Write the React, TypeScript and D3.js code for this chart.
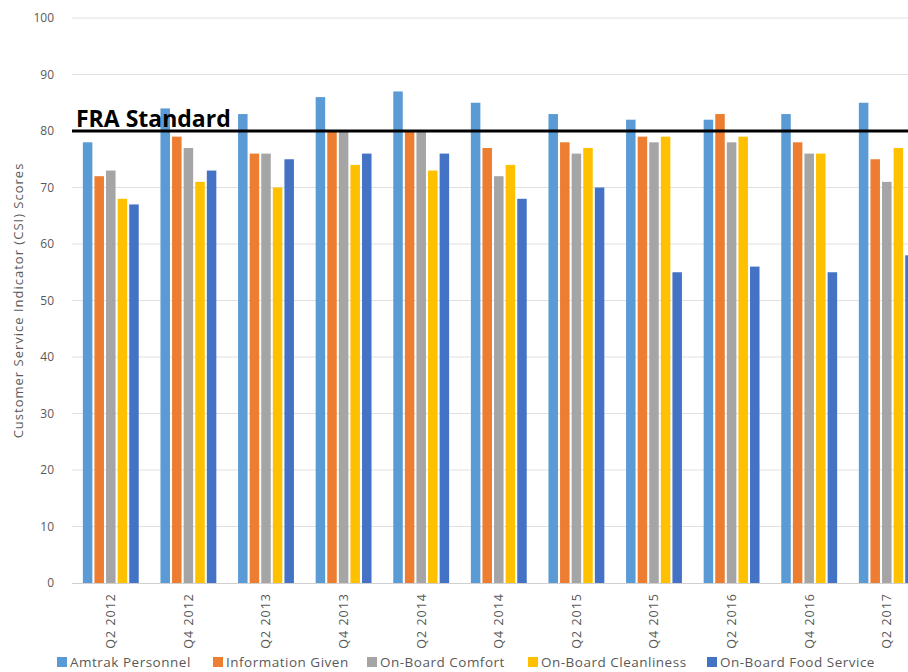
import { useRef, useEffect } from 'react'
import * as d3 from 'd3'

const quarters: string[] = ['Q2 2012', 'Q4 2012', 'Q2 2013', 'Q4 2013', 'Q2 2014', 'Q4 2014', 'Q2 2015', 'Q4 2015', 'Q2 2016', 'Q4 2016', 'Q2 2017']
const seriesNames: string[] = ['Amtrak Personnel', 'Information Given', 'On-Board Comfort', 'On-Board Cleanliness', 'On-Board Food Service']
const amtrakPersonnel: number[] = [78, 84, 83, 86, 87, 85, 83, 82, 82, 83, 85]
const informationGiven: number[] = [72, 79, 76, 80, 80, 77, 78, 79, 83, 78, 75]
const onBoardComfort: number[] = [73, 77, 76, 80, 80, 72, 76, 78, 78, 76, 71]
const onBoardCleanliness: number[] = [68, 71, 70, 74, 73, 74, 77, 79, 79, 76, 77]
const onBoardFoodService: number[] = [67, 73, 75, 76, 76, 68, 70, 55, 56, 55, 58]
const yTicks: number[] = [0, 10, 20, 30, 40, 50, 60, 70, 80, 90, 100]
const fraStandard: number = 80

const colors = ['#5B9BD5', '#ED7D31', '#A5A5A5', '#FFC000', '#4472C4']
const FONT = '"Open Sans", Lato, sans-serif'

export default function App() {
  const svgRef = useRef<SVGSVGElement>(null)
  const width = 908
  const height = 672

  useEffect(() => {
    const svg = d3.select(svgRef.current)
    svg.selectAll('*').remove()

    const series = [amtrakPersonnel, informationGiven, onBoardComfort, onBoardCleanliness, onBoardFoodService]
    const left = 72
    const top = 18
    const bottom = 583

    // plot keeps going past the right edge, so the last group is cut off
    const x0 = d3.scaleBand().domain(quarters).range([left, left + 11 * 77.6])
    const x1 = d3.scaleBand()
      .domain(seriesNames)
      .range([x0.bandwidth() * 0.14, x0.bandwidth() * 0.86])
      .paddingInner(0.18)
    const y = d3.scaleLinear().domain([0, 100]).range([bottom, top])

    // gridlines
    svg.append('g')
      .selectAll('line')
      .data(yTicks.filter(d => d > 0))
      .enter()
      .append('line')
      .attr('x1', left)
      .attr('x2', width)
      .attr('y1', d => y(d))
      .attr('y2', d => y(d))
      .attr('stroke', '#e0e0e0')
      .attr('stroke-width', 1)

    // y tick labels
    svg.append('g')
      .selectAll('text')
      .data(yTicks)
      .enter()
      .append('text')
      .attr('x', 54)
      .attr('y', d => y(d))
      .attr('dy', '0.35em')
      .attr('text-anchor', 'end')
      .attr('font-family', FONT)
      .attr('font-size', 12)
      .attr('fill', '#595959')
      .text(d => d)

    // bars
    const groups = svg.append('g')
      .selectAll('g')
      .data(quarters)
      .enter()
      .append('g')
      .attr('transform', d => 'translate(' + x0(d) + ',0)')

    groups.selectAll('rect')
      .data((_, i) => series.map((s, k) => ({ name: seriesNames[k], value: s[i], k })))
      .enter()
      .append('rect')
      .attr('x', d => x1(d.name) as number)
      .attr('width', x1.bandwidth())
      .attr('y', d => y(d.value))
      .attr('height', d => bottom - y(d.value))
      .attr('fill', d => colors[d.k])

    // baseline
    svg.append('line')
      .attr('x1', left)
      .attr('x2', width)
      .attr('y1', bottom + 0.5)
      .attr('y2', bottom + 0.5)
      .attr('stroke', '#d0d0d0')
      .attr('stroke-width', 1)

    // x labels
    svg.append('g')
      .selectAll('text')
      .data(quarters)
      .enter()
      .append('text')
      .attr('transform', d => 'translate(' + ((x0(d) as number) + x0.bandwidth() / 2) + ',' + (bottom + 10) + ') rotate(-90)')
      .attr('text-anchor', 'end')
      .attr('dy', '0.35em')
      .attr('font-family', FONT)
      .attr('font-size', 12.5)
      .attr('letter-spacing', 1)
      .attr('fill', '#595959')
      .text(d => d)

    // FRA standard line
    svg.append('line')
      .attr('x1', left)
      .attr('x2', width)
      .attr('y1', y(fraStandard))
      .attr('y2', y(fraStandard))
      .attr('stroke', '#000')
      .attr('stroke-width', 3)

    svg.append('text')
      .attr('x', 76)
      .attr('y', y(fraStandard) - 4)
      .attr('font-family', FONT)
      .attr('font-weight', 'bold')
      .attr('font-size', 23)
      .attr('fill', '#000')
      .text('FRA Standard')

    // y axis title
    svg.append('text')
      .attr('transform', 'translate(18,' + (top + bottom) / 2 + ') rotate(-90)')
      .attr('text-anchor', 'middle')
      .attr('dy', '0.35em')
      .attr('font-family', FONT)
      .attr('font-size', 13)
      .attr('letter-spacing', 1)
      .attr('fill', '#595959')
      .text('Customer Service Indicator (CSI) Scores')

    // legend
    const legendX = [57, 213, 367, 528, 707]
    const legend = svg.append('g')
      .selectAll('g')
      .data(seriesNames)
      .enter()
      .append('g')
      .attr('transform', (_, i) => 'translate(' + legendX[i] + ',662)')
    legend.append('rect')
      .attr('x', 0)
      .attr('y', -5)
      .attr('width', 10)
      .attr('height', 10)
      .attr('fill', (_, i) => colors[i])
    legend.append('text')
      .attr('x', 13)
      .attr('y', 0)
      .attr('dy', '0.35em')
      .attr('font-family', FONT)
      .attr('font-size', 13.5)
      .attr('letter-spacing', 0.5)
      .attr('fill', '#595959')
      .text(d => d)
  }, [])

  return (
    <svg
      ref={svgRef}
      width={width}
      height={height}
      style={{ position: 'absolute', left: 0, top: 0, background: '#fff' }}
    />
  )
}
